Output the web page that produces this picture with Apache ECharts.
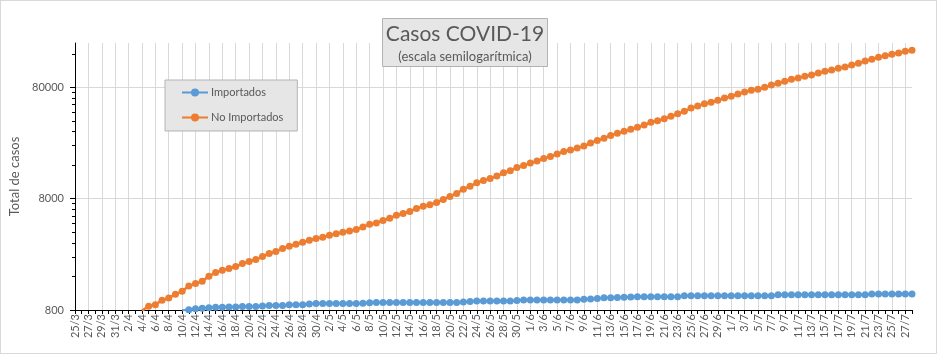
<!DOCTYPE html>
<html lang="es">

<head>
	<meta charset="UTF-8">
	<script src="https://cdn.jsdelivr.net/npm/echarts@6/dist/echarts.min.js"></script>
	<title>Casos COVID-19</title>
	<style>
		body { margin: 0; }
		#main { position: absolute; left: 0; top: 0; width: 937px; height: 354px; }
		#frame { position: absolute; left: 0; top: 0; width: 935px; height: 352px; border: 1px solid #d9d9d9; pointer-events: none; }
	</style>
</head>

<body>
	<div id="main"></div>
	<div id="frame"></div>

	<script>
		// fechas (25/3 .. 28/7)
		var dias = [
			'25/3', '26/3', '27/3', '28/3', '29/3', '30/3', '31/3',
			'1/4', '2/4', '3/4', '4/4', '5/4', '6/4', '7/4', '8/4', '9/4', '10/4', '11/4', '12/4', '13/4', '14/4', '15/4',
			'16/4', '17/4', '18/4', '19/4', '20/4', '21/4', '22/4', '23/4', '24/4', '25/4', '26/4', '27/4', '28/4', '29/4', '30/4',
			'1/5', '2/5', '3/5', '4/5', '5/5', '6/5', '7/5', '8/5', '9/5', '10/5', '11/5', '12/5', '13/5', '14/5', '15/5', '16/5',
			'17/5', '18/5', '19/5', '20/5', '21/5', '22/5', '23/5', '24/5', '25/5', '26/5', '27/5', '28/5', '29/5', '30/5', '31/5',
			'1/6', '2/6', '3/6', '4/6', '5/6', '6/6', '7/6', '8/6', '9/6', '10/6', '11/6', '12/6', '13/6', '14/6', '15/6',
			'16/6', '17/6', '18/6', '19/6', '20/6', '21/6', '22/6', '23/6', '24/6', '25/6', '26/6', '27/6', '28/6', '29/6', '30/6',
			'1/7', '2/7', '3/7', '4/7', '5/7', '6/7', '7/7', '8/7', '9/7', '10/7', '11/7', '12/7', '13/7', '14/7',
			'15/7', '16/7', '17/7', '18/7', '19/7', '20/7', '21/7', '22/7', '23/7', '24/7', '25/7', '26/7', '27/7', '28/7'
		];

		// Importados (null = por debajo del eje)
		var importados = [
			null, null, null, null, null, null, null,
			null, null, null, null, null, null, null, null, null, 790,
			805, 823, 828, 840, 845, 845, 851, 851, 862, 862, 862, 867, 879, 879, 879, 892, 892, 892, 905, 913,
			913, 913, 913, 913, 913, 913, 920, 928, 935, 935, 935, 935, 935, 935, 935, 935,
			935, 935, 935, 935, 935, 945, 955, 963, 963, 963, 963, 963, 963, 975, 986,
			986, 986, 986, 986, 986, 986, 986, 986, 1000, 1005, 1015, 1028, 1028, 1035, 1040,
			1045, 1052, 1052, 1052, 1052, 1052, 1052, 1052, 1074, 1074, 1074, 1074, 1074, 1074, 1074,
			1074, 1074, 1074, 1074, 1074, 1074, 1074, 1097, 1097, 1097, 1097, 1097, 1097, 1097,
			1097, 1097, 1097, 1097, 1097, 1097, 1097, 1111, 1111, 1111, 1111, 1111, 1111, 1111
		];

		// No Importados
		var noImportados = [
			null, null, null, null, null, null, null,
			null, null, null, 790, 864, 894, 978, 1026, 1107, 1178, 1315, 1382, 1449, 1608, 1736,
			1820, 1885, 1966, 2091, 2180, 2272, 2418, 2573, 2681, 2853, 2992, 3118, 3250, 3388, 3510,
			3605, 3758, 3876, 3998, 4107, 4227, 4462, 4718, 4847, 5094, 5342, 5684, 5888, 6137, 6530, 6848,
			7036, 7396, 7868, 8374, 8910, 9738, 10361, 11098, 11665, 12159, 12754, 13651, 14226, 15262, 15844,
			16685, 17392, 18390, 19167, 20103, 21259, 21840, 22763, 23726, 25246, 26698, 27827, 29606, 30859, 32166,
			33527, 34945, 36646, 38760, 40054, 41750, 43880, 46307, 48664, 52113, 54307, 56953, 58632, 61118, 64101,
			66400, 69628, 72576, 75185, 76753, 80000, 83906, 86913, 90594, 94425, 96999, 100473, 103219, 107586,
			111447, 114488, 118592, 121831, 126963, 131514, 137930, 142879, 148920, 153942, 158470, 162800, 168600, 172128
		];

		// marcas del eje logarítmico
		var marcasY = [800, 8000, 80000];
		var marcasMenores = [1600, 2400, 3200, 4000, 4800, 5600, 6400, 7200,
			16000, 24000, 32000, 40000, 48000, 56000, 64000, 72000, 160000];

		var gris = '#595959';
		var fuente = 'Lato';

		// una línea de grilla y una etiqueta cada dos días
		var cadaDos = function (idx) { return idx % 2 === 0; };

		var chart = echarts.init(document.getElementById('main'));

		var option = {
			animation: false,
			textStyle: { fontFamily: fuente },
			title: {
				text: 'Casos COVID-19',
				subtext: '(escala semilogarítmica)',
				left: 461,
				top: 18,
				textAlign: 'center',
				padding: [4, 4, 3, 4],
				itemGap: 2,
				backgroundColor: '#e6e6e6',
				borderColor: '#b3b3b3',
				borderWidth: 1,
				textStyle: { fontFamily: fuente, fontSize: 21, fontWeight: 'normal', color: gris, lineHeight: 25 },
				subtextStyle: { fontFamily: fuente, fontSize: 13, color: gris, lineHeight: 15 }
			},
			legend: {
				orient: 'vertical',
				left: 165,
				top: 80,
				padding: [7, 14, 8, 16],
				itemWidth: 26,
				itemHeight: 10,
				itemGap: 14,
				backgroundColor: '#e6e6e6',
				borderColor: '#b3b3b3',
				borderWidth: 1,
				borderRadius: 0,
				textStyle: { fontFamily: fuente, fontSize: 11, color: gris, padding: [0, 0, 0, -2] },
				data: ['Importados', 'No Importados']
			},
			grid: {
				left: 75,
				right: 25,
				top: 43,
				bottom: 44,
				containLabel: false
			},
			xAxis: [
				{
					type: 'category',
					boundaryGap: false,
					data: dias,
					axisLine: { lineStyle: { color: '#000', width: 1 } },
					axisTick: { show: false, interval: cadaDos },
					axisLabel: { interval: cadaDos, rotate: 90, fontSize: 11, color: gris, margin: 4 },
					splitLine: { show: true, interval: cadaDos, lineStyle: { color: '#d9d9d9', width: 1 } }
				},
				{
					// marcas diarias
					type: 'category',
					boundaryGap: false,
					data: dias,
					position: 'bottom',
					axisLine: { show: false },
					axisTick: { show: true, interval: 0, length: 4, lineStyle: { color: '#000' } },
					axisLabel: { show: false },
					splitLine: { show: false }
				}
			],
			yAxis: [
				{
					type: 'log',
					logBase: 10,
					min: 800,
					max: 200000,
					name: 'Total de casos',
					nameLocation: 'middle',
					nameGap: 51,
					nameTextStyle: { fontSize: 13, color: gris },
					axisLine: { show: true, lineStyle: { color: '#000', width: 1 } },
					axisTick: { show: true, length: 5, customValues: marcasY, lineStyle: { color: '#000' } },
					axisLabel: {
						fontSize: 11, color: gris, margin: 11, customValues: marcasY,
						formatter: function (v) { return String(v); }
					},
					splitLine: { show: true, lineStyle: { color: '#d9d9d9', width: 1 } }
				},
				{
					// solo las marcas menores del eje
					type: 'log',
					logBase: 10,
					min: 800,
					max: 200000,
					position: 'left',
					axisLine: { show: false },
					axisTick: { show: true, length: 3, customValues: marcasMenores, lineStyle: { color: '#000' } },
					axisLabel: { show: false },
					splitLine: { show: false }
				}
			],
			series: [
				{
					name: 'Importados',
					type: 'line',
					data: importados,
					color: '#5B9BD5',
					symbol: 'circle',
					symbolSize: 7,
					showAllSymbol: true,
					lineStyle: { width: 2.5 },
					clip: true
				},
				{
					name: 'No Importados',
					type: 'line',
					data: noImportados,
					color: '#ED7D31',
					symbol: 'circle',
					symbolSize: 7,
					showAllSymbol: true,
					lineStyle: { width: 2.5 },
					clip: true
				}
			]
		};

		chart.setOption(option);
	</script>
</body>

</html>
